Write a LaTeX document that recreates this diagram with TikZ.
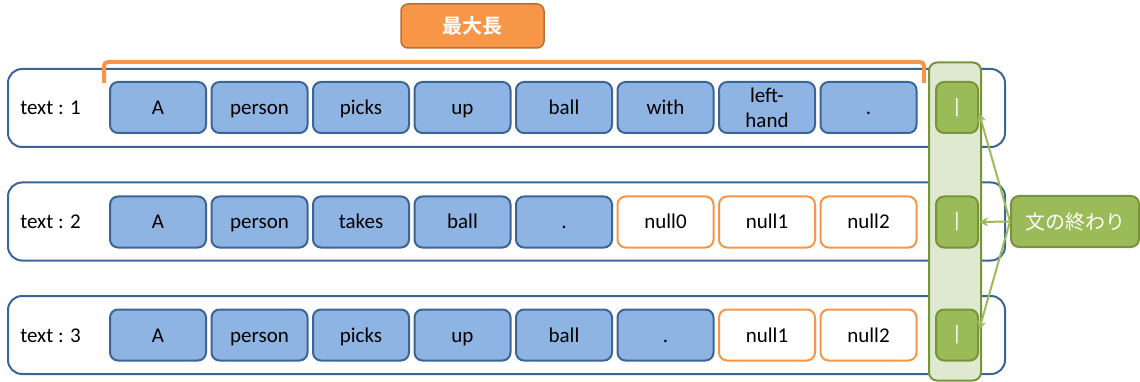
\documentclass[tikz,border=0pt]{standalone}
\usepackage{fontspec}
\setmainfont{Carlito}
\newfontfamily\jp{Noto Sans CJK JP}[BoldFont={Noto Sans CJK JP Bold}]
\usetikzlibrary{arrows.meta}
\definecolor{bfill}{HTML}{8EB4E3}
\definecolor{bline}{HTML}{3C6496}
\definecolor{ofill}{HTML}{F79646}
\definecolor{oline}{HTML}{B8702F}
\definecolor{gfill}{HTML}{9BBB59}
\definecolor{gline}{HTML}{77933C}
\definecolor{cfill}{HTML}{DFE9CF}
\tikzset{
  rowbox/.style={draw=bline, line width=2pt, rounded corners=14pt, minimum width=997pt, minimum height=78pt, inner sep=0pt},
  word/.style={draw=bline, fill=bfill, line width=2pt, rounded corners=8pt, minimum width=96pt, minimum height=51pt, inner sep=0pt, font=\fontsize{21}{24}\selectfont, align=center, text height=14pt, text depth=0pt},
  nullw/.style={word, draw=ofill, fill=white},
  eosbox/.style={draw=gline, fill=gfill, line width=2pt, rounded corners=8pt, minimum width=42pt, minimum height=51pt, inner sep=0pt, text=white, font=\fontsize{21}{24}\selectfont},
  lbl/.style={font=\fontsize{21}{24}\selectfont, text height=14pt, text depth=0pt},
  garrow/.style={draw=gfill, line width=2pt, -{Stealth[length=9pt,width=9pt]}},
}
\begin{document}
\begin{tikzpicture}[x=1pt,y=-1pt]
\useasboundingbox (0,0) rectangle (1140,382);
% row frames
\node[rowbox] (r1) at (506.5,108) {};
\node[rowbox] (r2) at (506.5,221.5) {};
\node[rowbox] (r3) at (506.5,335) {};
\node[lbl] (l1) at (50.5,108) {text : 1};
\node[lbl] (l2) at (50.5,221.5) {text : 2};
\node[lbl] (l3) at (50.5,335) {text : 3};
% row 1
\node[word] (a1) at (158,107.5) {A};
\node[word] (a2) at (259.5,107.5) {person};
\node[word] (a3) at (361,107.5) {picks};
\node[word] (a4) at (462.5,107.5) {up};
\node[word] (a5) at (564,107.5) {ball};
\node[word] (a6) at (665.5,107.5) {with};
\node[word, text height=, text depth=] (a7) at (767,107.5) {left-\\[1pt]hand};
\node[word] (a8) at (868.5,107.5) {.};
% row 2
\node[word] (b1) at (158,222) {A};
\node[word] (b2) at (259.5,222) {person};
\node[word] (b3) at (361,222) {takes};
\node[word] (b4) at (462.5,222) {ball};
\node[word] (b5) at (564,222) {.};
\node[nullw] (b6) at (665.5,222) {null0};
\node[nullw] (b7) at (767,222) {null1};
\node[nullw] (b8) at (868.5,222) {null2};
% row 3
\node[word] (c1) at (158,335) {A};
\node[word] (c2) at (259.5,335) {person};
\node[word] (c3) at (361,335) {picks};
\node[word] (c4) at (462.5,335) {up};
\node[word] (c5) at (564,335) {ball};
\node[word] (c6) at (665.5,335) {.};
\node[nullw] (c7) at (767,335) {null1};
\node[nullw] (c8) at (868.5,335) {null2};
% end column
\node[draw=gline, fill=cfill, line width=2pt, rounded corners=8pt, minimum width=52pt, minimum height=318pt, inner sep=0pt] (col) at (955,221.5) {};
\node[eosbox] (e1) at (957,107.5) {|};
\node[eosbox] (e2) at (957,222) {|};
\node[eosbox] (e3) at (957,335) {|};
% max length bracket
\coordinate (bl) at (104,83);
\coordinate (br) at (924,83);
\draw[ofill, line width=4pt, rounded corners=4pt] (bl) -- (104,62) -- (924,62) -- (br);
\node[draw=oline, fill=ofill, line width=1.5pt, rounded corners=7pt, minimum width=143pt, minimum height=44pt, inner sep=0pt, text=white, font=\jp\bfseries\fontsize{20}{24}\selectfont] (maxlen) at (472.5,26) {最大長};
% end of sentence label
\node[draw=gline, fill=gfill, line width=2pt, rounded corners=8pt, minimum width=128pt, minimum height=51pt, inner sep=0pt, text=white, font=\jp\fontsize{20}{24}\selectfont] (eos) at (1075,221.5) {文の終わり};
\draw[garrow] (eos.west) -- (e1.east |- 0,113);
\draw[garrow] (eos.west) -- (e2.east);
\draw[garrow] (eos.west) -- (e3.east |- 0,330);
\end{tikzpicture}
\end{document}
